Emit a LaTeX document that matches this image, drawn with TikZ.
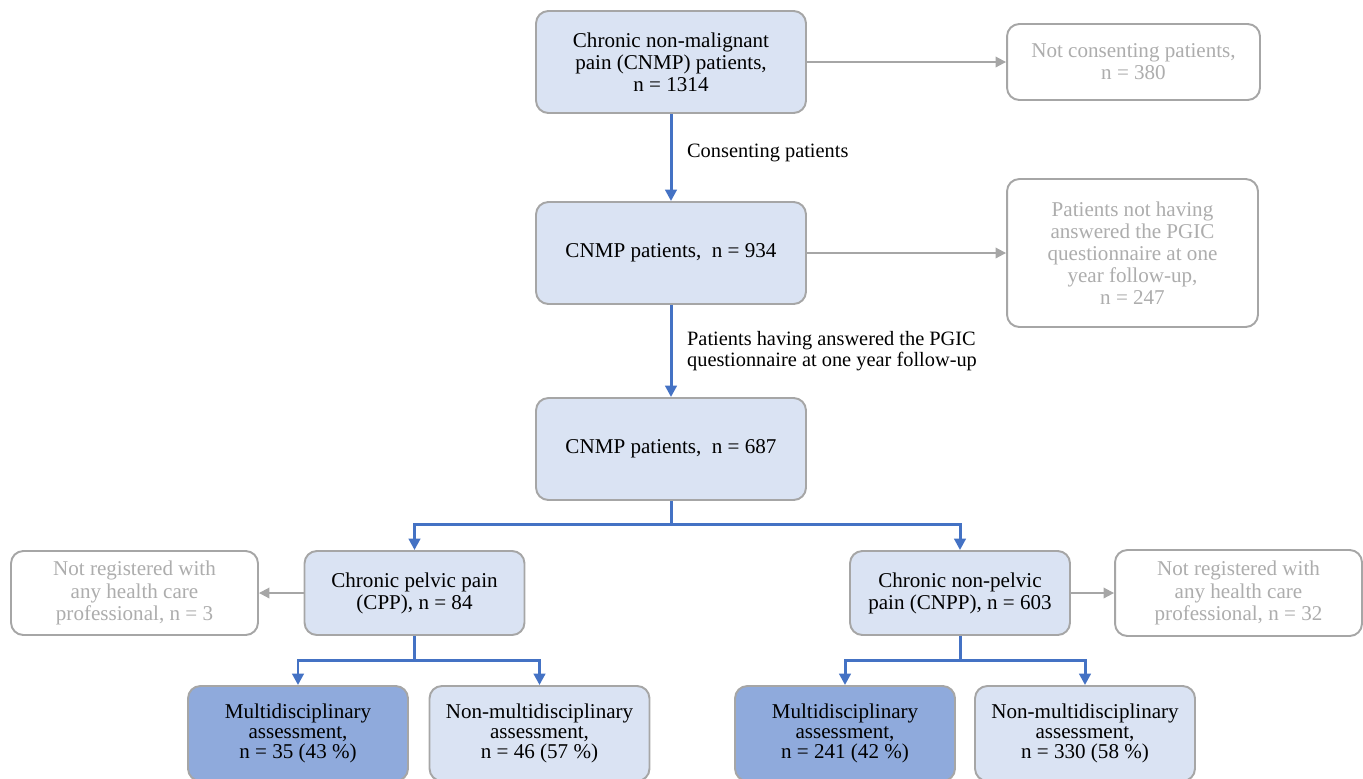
\documentclass[tikz,border=0pt]{standalone}
\usepackage{fontspec}
\setmainfont{Liberation Serif}
\usetikzlibrary{arrows.meta, positioning}

\definecolor{boxfill}{HTML}{DAE3F3}
\definecolor{multifill}{HTML}{8FAADC}
\definecolor{flowblue}{HTML}{4472C4}
\definecolor{greyline}{HTML}{A6A6A6}
\definecolor{greytext}{HTML}{ADADAD}

\tikzset{
  box/.style={draw=greyline, line width=1.1pt, rounded corners=7pt, fill=boxfill,
    align=center, inner sep=2pt, font=\rmfamily\fontsize{12}{12.6}\selectfont},
  mainbox/.style={box, minimum width=5.4cm, minimum height=2.04cm},
  outbox/.style={box, fill=white, text=greytext},
  subbox/.style={box, minimum width=4.4cm, minimum height=1.68cm},
  leafbox/.style={box, minimum width=4.4cm, minimum height=1.9cm, font=\rmfamily\fontsize{12}{11.4}\selectfont},
  flow/.style={draw=flowblue, line width=1.7pt, -{Triangle[width=6.5pt,length=6.5pt]}},
  side/.style={draw=greyline, line width=1.1pt, -{Triangle[width=6pt,length=6pt]}},
  lbl/.style={font=\rmfamily\fontsize{11.6}{11.6}\selectfont, align=left}
}

\begin{document}
\begin{tikzpicture}[x=0.02cm, y=-0.02cm]
  \useasboundingbox (0,0) rectangle (1363,778);
  % main column
  \node[mainbox] (cnmp) at (671,62) {Chronic non-malignant\\pain (CNMP) patients,\\n = 1314};
  \node[mainbox] (cons) at (671,253) {CNMP patients, \ n = 934};
  \node[mainbox] (pgic) at (671,449) {CNMP patients, \ n = 687};
  % excluded on the right
  \node[outbox, minimum width=5.06cm, minimum height=1.52cm] (notcons) at (1133.5,62)
    {Not consenting patients,\\n = 380};
  \node[outbox, minimum width=5.02cm, minimum height=2.96cm] (notans) at (1132.5,253)
    {Patients not having\\answered the PGIC\\questionnaire at one\\year follow-up,\\n = 247};
  % pelvic / non-pelvic
  \node[subbox] (cpp) at (414.5,593) {Chronic pelvic pain\\(CPP), n = 84};
  \node[subbox] (cnpp) at (960,593) {Chronic non-pelvic\\pain (CNPP), n = 603};
  \node[outbox, minimum width=4.94cm, minimum height=1.68cm] (noregl) at (134.5,593)
    {Not registered with\\any health care\\professional, n = 3};
  \node[outbox, minimum width=4.94cm, minimum height=1.72cm] (noregr) at (1238.5,593)
    {Not registered with\\any health care\\professional, n = 32};
  % assessments
  \node[leafbox, fill=multifill] (cppmd) at (298,733.5) {Multidisciplinary\\assessment,\\n = 35 (43 \%)};
  \node[leafbox] (cppnm) at (539.5,733.5) {Non-multidisciplinary\\assessment,\\n = 46 (57 \%)};
  \node[leafbox, fill=multifill] (cnppmd) at (845,733.5) {Multidisciplinary\\assessment,\\n = 241 (42 \%)};
  \node[leafbox] (cnppnm) at (1085,733.5) {Non-multidisciplinary\\assessment,\\n = 330 (58 \%)};

  % connectors
  \draw[flow] (cnmp) -- node[lbl, right=5pt, pos=0.45] {Consenting patients} (cons);
  \draw[flow] (cons) -- node[lbl, right=5pt] {Patients having answered the PGIC\\questionnaire at one year follow-up} (pgic);
  \draw[side] (cnmp.east) -- (notcons.west);
  \draw[side] (cons.east) -- (notans.west);
  \draw[side] (cpp.west) -- (noregl.east);
  \draw[side] (cnpp.east) -- (noregr.west);

  \draw[flow] (pgic.south) -- ++(0,24) coordinate (split) -| (cpp.north);
  \draw[flow] (split) -| (cnpp.north);
  \draw[flow] (cpp.south) -- ++(0,25) coordinate (cppsplit) -| (cppmd.north);
  \draw[flow] (cppsplit) -| (cppnm.north);
  \draw[flow] (cnpp.south) -- ++(0,25) coordinate (cnppsplit) -| (cnppmd.north);
  \draw[flow] (cnppsplit) -| (cnppnm.north);
\end{tikzpicture}
\end{document}
